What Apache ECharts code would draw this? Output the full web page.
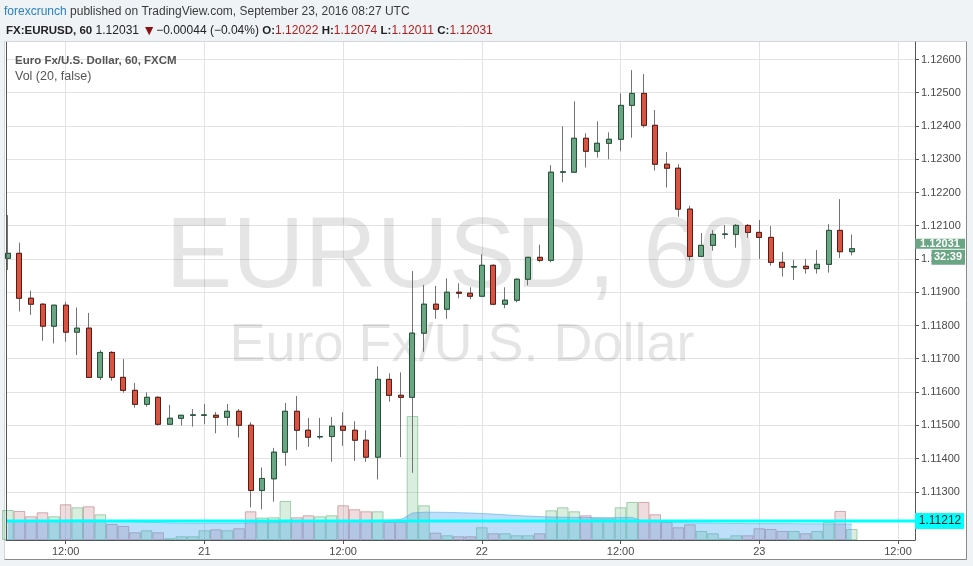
<!DOCTYPE html>
<html><head><meta charset="utf-8">
<script src="https://cdn.jsdelivr.net/npm/echarts@6/dist/echarts.min.js"></script>
<style>html,body{margin:0;padding:0;background:#f0f3f6;}#c{width:973px;height:566px;}</style>
</head><body><div id="c"></div>
<script>
// ---- data (EUR/USD hourly, 2016-09-20 07:00 UTC .. 2016-09-23 08:00 UTC) ----
const firstHour = 7; // hours after 2016-09-20 00:00 UTC of the first candle
const openP  = [1.12002,1.12017,1.11882,1.11864,1.11798,1.11861,1.11780,1.11792,1.11644,1.11719,
                1.11644,1.11605,1.11563,1.11584,1.11503,1.11521,1.11530,1.11530,1.11530,1.11524,
                1.11542,1.11500,1.11304,1.11339,1.11419,1.11542,1.11485,1.11465,1.11466,1.11497,
                1.11485,1.11455,1.11404,1.11638,1.11590,1.11584,1.11777,1.11864,1.11849,1.11900,
                1.11897,1.11888,1.11981,1.11864,1.11876,1.11939,1.12005,1.11996,1.12261,1.12261,
                1.12363,1.12324,1.12348,1.12360,1.12462,1.12498,1.12402,1.12285,1.12273,1.12150,
                1.12008,1.12041,1.12074,1.12074,1.12101,1.12080,1.12065,1.11990,1.11976,1.11978,
                1.11971,1.11984,1.12086,1.12022];
const highP  = [1.12132,1.12049,1.11905,1.11867,1.11862,1.11871,1.11854,1.11838,1.11726,1.11723,
                1.11699,1.11627,1.11599,1.11587,1.11561,1.11530,1.11549,1.11564,1.11540,1.11564,
                1.11549,1.11509,1.11373,1.11432,1.11567,1.11588,1.11522,1.11522,1.11525,1.11539,
                1.11512,1.11485,1.11677,1.11656,1.11659,1.11964,1.11922,1.11919,1.11942,1.11927,
                1.11915,1.12014,1.11984,1.11915,1.11942,1.12005,1.12043,1.12282,1.12399,1.12474,
                1.12378,1.12414,1.12381,1.12498,1.12568,1.12556,1.12448,1.12322,1.12285,1.12160,
                1.12078,1.12087,1.12102,1.12105,1.12105,1.12117,1.12099,1.12021,1.11997,1.12000,
                1.12027,1.12105,1.12180,1.12074];
const lowP   = [1.11967,1.11842,1.11832,1.11754,1.11746,1.11751,1.11711,1.11643,1.11636,1.11634,
                1.11598,1.11553,1.11556,1.11499,1.11502,1.11499,1.11496,1.11503,1.11476,1.11499,
                1.11463,1.11253,1.11247,1.11270,1.11378,1.11426,1.11435,1.11458,1.11390,1.11438,
                1.11393,1.11390,1.11337,1.11571,1.11404,1.11357,1.11721,1.11820,1.11820,1.11882,
                1.11879,1.11888,1.11861,1.11852,1.11870,1.11921,1.11990,1.11990,1.12231,1.12261,
                1.12275,1.12305,1.12300,1.12324,1.12365,1.12395,1.12266,1.12215,1.12127,1.11995,
                1.12005,1.12025,1.12061,1.12034,1.12064,1.12000,1.11980,1.11947,1.11937,1.11956,
                1.11956,1.11959,1.12003,1.12011];
const closeP = [1.12017,1.11882,1.11864,1.11798,1.11861,1.11780,1.11792,1.11644,1.11719,1.11644,
                1.11605,1.11563,1.11584,1.11503,1.11521,1.11530,1.11531,1.11531,1.11524,1.11542,
                1.11500,1.11304,1.11340,1.11419,1.11542,1.11485,1.11464,1.11466,1.11497,1.11485,
                1.11455,1.11404,1.11638,1.11590,1.11584,1.11777,1.11864,1.11849,1.11900,1.11897,
                1.11888,1.11981,1.11864,1.11876,1.11939,1.12005,1.11996,1.12261,1.12262,1.12363,
                1.12324,1.12348,1.12360,1.12462,1.12498,1.12402,1.12285,1.12273,1.12150,1.12008,
                1.12041,1.12074,1.12075,1.12101,1.12080,1.12065,1.11990,1.11975,1.11977,1.11971,
                1.11984,1.12086,1.12022,1.12031];
// volume (relative units) and its 20-period moving average as drawn
const volume   = [300,290,237,277,237,357,327,337,257,160, 140,77,97,77,17,37,37,97,107,97,
                  117,287,225,227,390,227,247,237,247,347, 307,287,287,180,180,1240,347,73,47,37,
                  37,127,67,67,47,47,67,297,327,287, 247,217,217,327,380,380,257,180,127,157,
                  90,67,17,47,47,117,110,90,90,67, 90,180,290,110];
const volumeMA = [195,195,195,195,195,196,197,198,197,193, 189,183,179,175,171,168,167,168,169,169,
                  169,172,173,175,181,183,185,186,189,192, 195,195,195,198,204,270,278,278,276,273,
                  270,265,259,252,245,239,234,230,228,226, 225,224,223,225,226,185,182,180,176,172,
                  170,168,166,165,164,164,164,164,163,162, 162,161,160,160];
const priceTicks = [1.113,1.114,1.115,1.116,1.117,1.118,1.119,1.120,1.121,1.122,1.123,1.124,1.125,1.126];
const timeTicks = [12,24,36,48,60,72,84];
const timeTickLabels = ['12:00','21','12:00','22','12:00','23','12:00'];
const hLineLevel = 1.11212;
const countdown = '32:39';

// ---- chart ----
const X_MIN = 6.84, X_MAX = 85.47;
const hours = openP.map((_, i) => firstHour + i);
const UP = '#6ba583', DOWN = '#d75442', UPB = '#225437', DOWNB = '#5b1a13', WICK = '#737373';
const chart = echarts.init(document.getElementById('c'), null, {renderer: 'canvas'});
const FONT = 'Liberation Sans, Arial, sans-serif';

const option = {
  animation: false,
  backgroundColor: '#f0f3f6',
  grid: {left: 6, right: 58, top: 42, bottom: 26, containLabel: false},
  xAxis: {
    type: 'value', min: X_MIN, max: X_MAX,
    axisLine: {show: true, onZero: false, lineStyle: {color: '#555', width: 1}},
    axisTick: {show: true, customValues: timeTicks, length: 4, lineStyle: {color: '#555'}},
    axisLabel: {customValues: timeTicks, margin: 6, color: '#4a4a4a', fontSize: 11, fontFamily: FONT,
      formatter: v => timeTickLabels[timeTicks.indexOf(Math.round(v))]},
    splitLine: {show: true, lineStyle: {color: '#e3e3e3', width: 1}}
  },
  yAxis: [{
    type: 'value', position: 'right', min: 1.111549, max: 1.126526, scale: true,
    axisLine: {show: true, onZero: false, lineStyle: {color: '#555', width: 1}},
    axisTick: {show: true, customValues: priceTicks, length: 4, lineStyle: {color: '#555'}},
    axisLabel: {customValues: priceTicks, margin: 6, color: '#4a4a4a', fontSize: 11, fontFamily: FONT,
      formatter: v => v.toFixed(5)},
    splitLine: {show: true, lineStyle: {color: '#e3e3e3', width: 1}}
  }, {
    type: 'value', min: 0, max: 4980, show: false, splitLine: {show: false}
  }],
  series: [
    {
      type: 'bar', name: 'Vol', xAxisIndex: 0, yAxisIndex: 1, barWidth: 11.56, silent: true,
      data: hours.map((h, i) => ({
        value: [h, volume[i]],
        itemStyle: closeP[i] >= openP[i]
          ? {color: 'rgba(110,190,128,0.26)', borderColor: 'rgba(90,170,110,0.5)', borderWidth: 1}
          : {color: 'rgba(190,110,118,0.24)', borderColor: 'rgba(180,100,108,0.5)', borderWidth: 1}
      }))
    },
    {
      type: 'line', name: 'Vol MA', xAxisIndex: 0, yAxisIndex: 1, showSymbol: false, silent: true,
      data: hours.map((h, i) => [h, volumeMA[i]]),
      lineStyle: {color: 'rgba(60,160,240,0.5)', width: 1},
      areaStyle: {color: 'rgba(60,160,240,0.48)', origin: 'start'}
    },
    {
      type: 'line', name: 'Horizontal line', xAxisIndex: 0, yAxisIndex: 0, showSymbol: false, silent: true,
      data: [[X_MIN, hLineLevel], [X_MAX, hLineLevel]],
      lineStyle: {color: '#00ffff', width: 3}, z: 3
    },
    {
      type: 'candlestick', name: 'wicks', xAxisIndex: 0, yAxisIndex: 0, barWidth: 5.5, silent: true, z: 4,
      data: hours.map((h, i) => [h, openP[i], closeP[i], lowP[i], highP[i]]),
      encode: {x: 0, y: [1, 2, 3, 4]},
      itemStyle: {color: 'rgba(0,0,0,0)', color0: 'rgba(0,0,0,0)', borderColor: WICK, borderColor0: WICK,
        borderColorDoji: WICK, borderWidth: 1}
    },
    {
      type: 'candlestick', name: 'EURUSD', xAxisIndex: 0, yAxisIndex: 0, barWidth: 5.5, silent: true, z: 5,
      data: hours.map((h, i) => [h, openP[i], closeP[i], Math.min(openP[i], closeP[i]), Math.max(openP[i], closeP[i])]),
      encode: {x: 0, y: [1, 2, 3, 4]},
      itemStyle: {color: UP, color0: DOWN, borderColor: UPB, borderColor0: DOWNB, borderColorDoji: UPB, borderWidth: 1}
    }
  ]
};
chart.setOption(option);

const lastClose = closeP[closeP.length - 1];
const pLast = chart.convertToPixel({yAxisIndex: 0}, lastClose);
const pLine = chart.convertToPixel({yAxisIndex: 0}, hLineLevel);
const axisX = chart.convertToPixel({xAxisIndex: 0}, X_MAX);

const graphic = [
  // white chart container
  {type: 'rect', z: -10, silent: true, shape: {x: 4.5, y: 41.5, width: 962, height: 518},
   style: {fill: '#ffffff', stroke: '#d3d7dc', lineWidth: 1}},
  {type: 'polyline', z: -9, silent: true, shape: {points: [[4.5, 559.5], [966.5, 559.5], [966.5, 41.5]]},
   style: {stroke: '#8a8a8a', lineWidth: 1, fill: null}},
  // plot left border
  {type: 'line', z: 50, silent: true, shape: {x1: 6.5, y1: 42, x2: 6.5, y2: 540},
   style: {stroke: '#555', lineWidth: 1}},
  // watermark
  {type: 'text', z: 1, silent: true, style: {x: 460, y: 259, text: 'EURUSD, 60', fill: 'rgba(0,0,0,0.10)',
    font: '100px ' + FONT, textAlign: 'center', textVerticalAlign: 'middle'}},
  {type: 'text', z: 1, silent: true, style: {x: 462, y: 346, text: 'Euro Fx/U.S. Dollar', fill: 'rgba(0,0,0,0.10)',
    font: '54px ' + FONT, textAlign: 'center', textVerticalAlign: 'middle'}},
  // header
  {type: 'text', z: 60, silent: true, style: {x: 4, y: 12, textVerticalAlign: 'middle',
    text: '{a|forexcrunch}{b| published on TradingView.com, September 23, 2016 08:27 UTC}',
    rich: {a: {fill: '#2a80c0', font: '12px ' + FONT}, b: {fill: '#3a3a3a', font: '12px ' + FONT}}}},
  {type: 'text', z: 60, silent: true, style: {x: 6, y: 31, textVerticalAlign: 'middle',
    text: '{k|FX:EURUSD, 60} {n|1.12031 }{t|▼}{n|−0.00044 (−0.04%)} {k|O:}{r|1.12022} {k|H:}{r|1.12074} {k|L:}{r|1.12011} {k|C:}{r|1.12031}',
    rich: {k: {fill: '#222', font: 'bold 11.5px ' + FONT}, n: {fill: '#222', font: '12px ' + FONT},
           r: {fill: '#b01e1e', font: '12px ' + FONT}, t: {fill: '#8e1010', font: '14px ' + FONT}}}},
  // legend
  {type: 'text', z: 60, silent: true, style: {x: 15, y: 61, textVerticalAlign: 'middle',
    text: 'Euro Fx/U.S. Dollar, 60, FXCM', fill: '#555', font: 'bold 11.5px ' + FONT}},
  {type: 'text', z: 60, silent: true, style: {x: 15, y: 77, textVerticalAlign: 'middle',
    text: 'Vol (20, false)', fill: '#555', font: '12.5px ' + FONT}},
  // last price label + countdown
  {type: 'rect', z: 60, silent: true, shape: {x: axisX, y: pLast - 10, width: 50, height: 10},
   style: {fill: '#6aa584'}},
  {type: 'text', z: 61, silent: true, style: {x: axisX + 25, y: pLast - 4.5, text: lastClose.toFixed(5),
    fill: '#fff', font: 'bold 11px ' + FONT, textAlign: 'center', textVerticalAlign: 'middle'}},
  {type: 'rect', z: 60, silent: true, shape: {x: axisX + 16.5, y: pLast + 1, width: 33.5, height: 15},
   style: {fill: '#6aa584'}},
  {type: 'text', z: 61, silent: true, style: {x: axisX + 33, y: pLast + 8.5, text: countdown,
    fill: '#fff', font: 'bold 11px ' + FONT, textAlign: 'center', textVerticalAlign: 'middle'}},
  // horizontal line label
  {type: 'rect', z: 60, silent: true, shape: {x: axisX, y: pLine - 8, width: 49, height: 16},
   style: {fill: '#00ffff'}},
  {type: 'text', z: 61, silent: true, style: {x: axisX + 25, y: pLine, text: hLineLevel.toFixed(5),
    fill: '#222', font: '12px ' + FONT, textAlign: 'center', textVerticalAlign: 'middle'}}
];
chart.setOption({graphic: graphic});
</script></body></html>
